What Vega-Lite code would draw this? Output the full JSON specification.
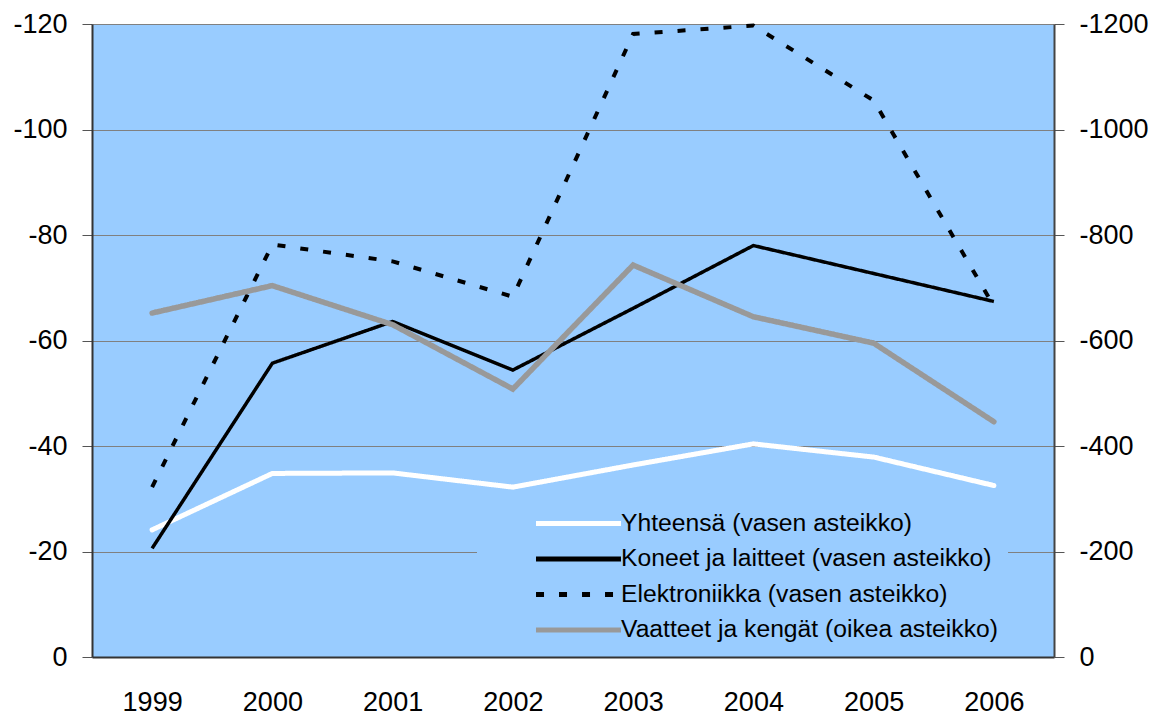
{
  "$schema": "https://vega.github.io/schema/vega-lite/v6.json",
  "autosize": "none",
  "width": 962,
  "height": 633,
  "padding": {"left": 92, "top": 24, "right": 109, "bottom": 59},
  "background": "white",
  "datasets": {
    "rows": [
      {"year": "1999", "series": "Yhteensä (vasen asteikko)", "value": -24.1},
      {"year": "2000", "series": "Yhteensä (vasen asteikko)", "value": -34.8},
      {"year": "2001", "series": "Yhteensä (vasen asteikko)", "value": -34.9},
      {"year": "2002", "series": "Yhteensä (vasen asteikko)", "value": -32.2},
      {"year": "2003", "series": "Yhteensä (vasen asteikko)", "value": -36.4},
      {"year": "2004", "series": "Yhteensä (vasen asteikko)", "value": -40.4},
      {"year": "2005", "series": "Yhteensä (vasen asteikko)", "value": -37.9},
      {"year": "2006", "series": "Yhteensä (vasen asteikko)", "value": -32.5},
      {"year": "1999", "series": "Koneet ja laitteet (vasen asteikko)", "value": -20.6},
      {"year": "2000", "series": "Koneet ja laitteet (vasen asteikko)", "value": -55.7},
      {"year": "2001", "series": "Koneet ja laitteet (vasen asteikko)", "value": -63.6},
      {"year": "2002", "series": "Koneet ja laitteet (vasen asteikko)", "value": -54.4},
      {"year": "2003", "series": "Koneet ja laitteet (vasen asteikko)", "value": -66.1},
      {"year": "2004", "series": "Koneet ja laitteet (vasen asteikko)", "value": -78.0},
      {"year": "2005", "series": "Koneet ja laitteet (vasen asteikko)", "value": -72.7},
      {"year": "2006", "series": "Koneet ja laitteet (vasen asteikko)", "value": -67.4},
      {"year": "1999", "series": "Elektroniikka (vasen asteikko)", "value": -32.2},
      {"year": "2000", "series": "Elektroniikka (vasen asteikko)", "value": -78.2},
      {"year": "2001", "series": "Elektroniikka (vasen asteikko)", "value": -75.0},
      {"year": "2002", "series": "Elektroniikka (vasen asteikko)", "value": -68.3},
      {"year": "2003", "series": "Elektroniikka (vasen asteikko)", "value": -118.1},
      {"year": "2004", "series": "Elektroniikka (vasen asteikko)", "value": -119.7},
      {"year": "2005", "series": "Elektroniikka (vasen asteikko)", "value": -105.5},
      {"year": "2006", "series": "Elektroniikka (vasen asteikko)", "value": -66.5},
      {"year": "1999", "series": "Vaatteet ja kengät (oikea asteikko)", "value": -652},
      {"year": "2000", "series": "Vaatteet ja kengät (oikea asteikko)", "value": -704},
      {"year": "2001", "series": "Vaatteet ja kengät (oikea asteikko)", "value": -630},
      {"year": "2002", "series": "Vaatteet ja kengät (oikea asteikko)", "value": -508},
      {"year": "2003", "series": "Vaatteet ja kengät (oikea asteikko)", "value": -743},
      {"year": "2004", "series": "Vaatteet ja kengät (oikea asteikko)", "value": -645},
      {"year": "2005", "series": "Vaatteet ja kengät (oikea asteikko)", "value": -595},
      {"year": "2006", "series": "Vaatteet ja kengät (oikea asteikko)", "value": -446}
    ]
  },
  "data": {"name": "rows"},
  "encoding": {
    "x": {
      "field": "year", "type": "ordinal",
      "scale": {"type": "point", "padding": 0.5},
      "axis": {
        "title": null, "labelAngle": 0, "ticks": false, "tickSize": 0,
        "labelPadding": 32, "labelFontSize": 27, "labelFont": "Liberation Sans",
        "labelColor": "#000000", "domainColor": "#333333", "domainWidth": 2, "grid": false
      }
    },
    "color": {
      "field": "series", "type": "nominal",
      "scale": {
        "domain": ["Yhteensä (vasen asteikko)", "Koneet ja laitteet (vasen asteikko)", "Elektroniikka (vasen asteikko)", "Vaatteet ja kengät (oikea asteikko)"],
        "range": ["#FFFFFF", "#000000", "#000000", "#999999"]
      },
      "legend": {"title": null}
    },
    "strokeDash": {
      "field": "series", "type": "nominal",
      "scale": {
        "domain": ["Yhteensä (vasen asteikko)", "Koneet ja laitteet (vasen asteikko)", "Elektroniikka (vasen asteikko)", "Vaatteet ja kengät (oikea asteikko)"],
        "range": [[1, 0], [1, 0], [8, 15], [1, 0]]
      },
      "legend": {"title": null}
    }
  },
  "layer": [
    {
      "encoding": {
        "y": {
          "field": "value", "type": "quantitative",
          "scale": {"domain": [0, -120], "nice": false, "zero": false},
          "axis": {
            "orient": "left", "title": null, "values": [0, -20, -40, -60, -80, -100, -120],
            "labelExpr": "'' + datum.value", "labelFontSize": 27, "labelFont": "Liberation Sans",
            "labelColor": "#000000", "labelPadding": 15, "tickSize": 10, "tickColor": "#555555",
            "domainColor": "#333333", "domainWidth": 2,
            "grid": true, "gridColor": "#808080", "gridWidth": 1
          }
        }
      },
      "layer": [
        {
          "transform": [{"filter": "datum.series === 'Yhteensä (vasen asteikko)'"}],
          "mark": {"type": "line", "strokeWidth": 5, "strokeCap": "round", "strokeJoin": "miter"}
        },
        {
          "transform": [{"filter": "datum.series === 'Koneet ja laitteet (vasen asteikko)'"}],
          "mark": {"type": "line", "strokeWidth": 3.5, "strokeJoin": "miter"}
        },
        {
          "transform": [{"filter": "datum.series === 'Elektroniikka (vasen asteikko)'"}],
          "mark": {"type": "line", "strokeWidth": 4, "strokeJoin": "miter"}
        }
      ]
    },
    {
      "transform": [{"filter": "datum.series === 'Vaatteet ja kengät (oikea asteikko)'"}],
      "mark": {"type": "line", "strokeWidth": 5.5, "strokeCap": "round", "strokeJoin": "miter"},
      "encoding": {
        "y": {
          "field": "value", "type": "quantitative",
          "scale": {"domain": [0, -1200], "nice": false, "zero": false},
          "axis": {
            "orient": "right", "title": null, "values": [0, -200, -400, -600, -800, -1000, -1200],
            "labelExpr": "'' + datum.value", "labelFontSize": 27, "labelFont": "Liberation Sans",
            "labelColor": "#000000", "labelPadding": 15, "tickSize": 10, "tickColor": "#555555",
            "domainColor": "#444444", "domainWidth": 2, "grid": false
          }
        }
      }
    }
  ],
  "resolve": {"scale": {"y": "independent"}},
  "config": {
    "view": {"fill": "#99CCFF", "stroke": null},
    "legend": {
      "orient": "none", "legendX": 385, "legendY": 476,
      "fillColor": "#99CCFF", "padding": 10, "symbolType": "M-4,0H4",
      "symbolSize": 451, "symbolOffset": 78, "labelOffset": 29, "symbolStrokeWidth": 5,
      "labelFontSize": 24.7, "labelFont": "Liberation Sans", "labelColor": "#000000",
      "rowPadding": 9.5, "labelLimit": 600
    }
  }
}
